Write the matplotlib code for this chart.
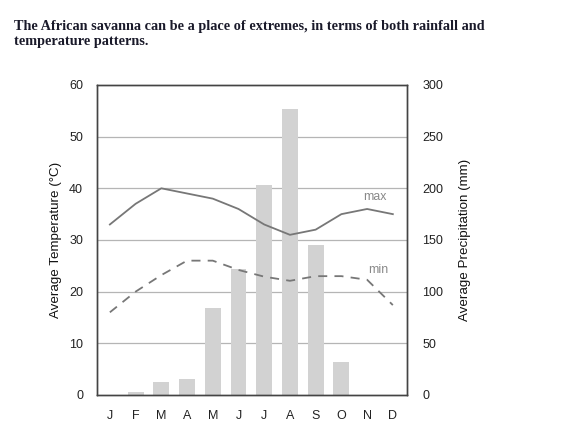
import matplotlib
matplotlib.use("Agg")
import matplotlib.pyplot as plt
import numpy as np

months = ["J", "F", "M", "A", "M", "J", "J", "A", "S", "O", "N", "D"]
precip = [0, 3, 13, 15, 84, 122, 203, 277, 145, 32, 0, 0]
t_max = [33, 37, 40, 39, 38, 36, 33, 31, 32, 35, 36, 35]
t_min = [16, 20, 23.2, 26, 26, 24.2, 22.9, 22.1, 23, 23, 22.3, 17.4]
temp_ticks = [0, 10, 20, 30, 40, 50, 60]
precip_ticks = [0, 50, 100, 150, 200, 250, 300]
title = "The African savanna can be a place of extremes, in terms of both rainfall and\ntemperature patterns."

plt.rcParams["font.family"] = ["Liberation Sans", "DejaVu Sans"]

fig = plt.figure(figsize=(5.64, 4.38), dpi=100)
ax = fig.add_axes([0.172, 0.0982, 0.5496, 0.7078])
ax2 = ax.twinx()

x = np.arange(len(months))
for t in precip_ticks[1:-1]:
    ax2.axhline(t, color="#b5b5b5", lw=0.9, zorder=0)
ax2.bar(x, precip, width=0.62, color="#d2d2d2", zorder=1)
ax2.set_ylim(0, 300)
ax2.set_yticks(precip_ticks)
ax2.set_ylabel("Average Precipitation (mm)", fontsize=9.6, color="#111", labelpad=11)

ax.set_zorder(ax2.get_zorder() + 1)
ax.patch.set_visible(False)

ax.plot(x, t_max, color="#777777", lw=1.3, zorder=3)
ax.plot(x, t_min, color="#777777", lw=1.3, ls=(0, (5, 4)), zorder=3)
ax.text(10.3, 37.8, "max", color="#888888", fontsize=8.8, ha="center")
ax.text(10.45, 23.6, "min", color="#888888", fontsize=8.8, ha="center")

ax.set_xlim(-0.5, 11.55)
ax.set_ylim(0, 60)
ax.set_yticks(temp_ticks)
ax.set_xticks(x)
ax.set_xticklabels(months)
ax.set_ylabel("Average Temperature (°C)", fontsize=9.6, color="#111", labelpad=5)

for a in (ax, ax2):
    for s in a.spines.values():
        s.set_color("#444444")
        s.set_linewidth(1.0)
ax.tick_params(axis="x", length=0, pad=11, labelsize=9, colors="#222")
ax.tick_params(axis="y", length=0, pad=10, labelsize=9, colors="#222")
ax2.tick_params(axis="y", length=0, pad=11, labelsize=9, colors="#222")

fig.text(0.024, 0.898, title, fontsize=10.3, fontweight="bold",
         family="Liberation Serif", color="#1a1a2a", va="baseline",
         linespacing=1.2)

fig.savefig("out.png", dpi=100)
